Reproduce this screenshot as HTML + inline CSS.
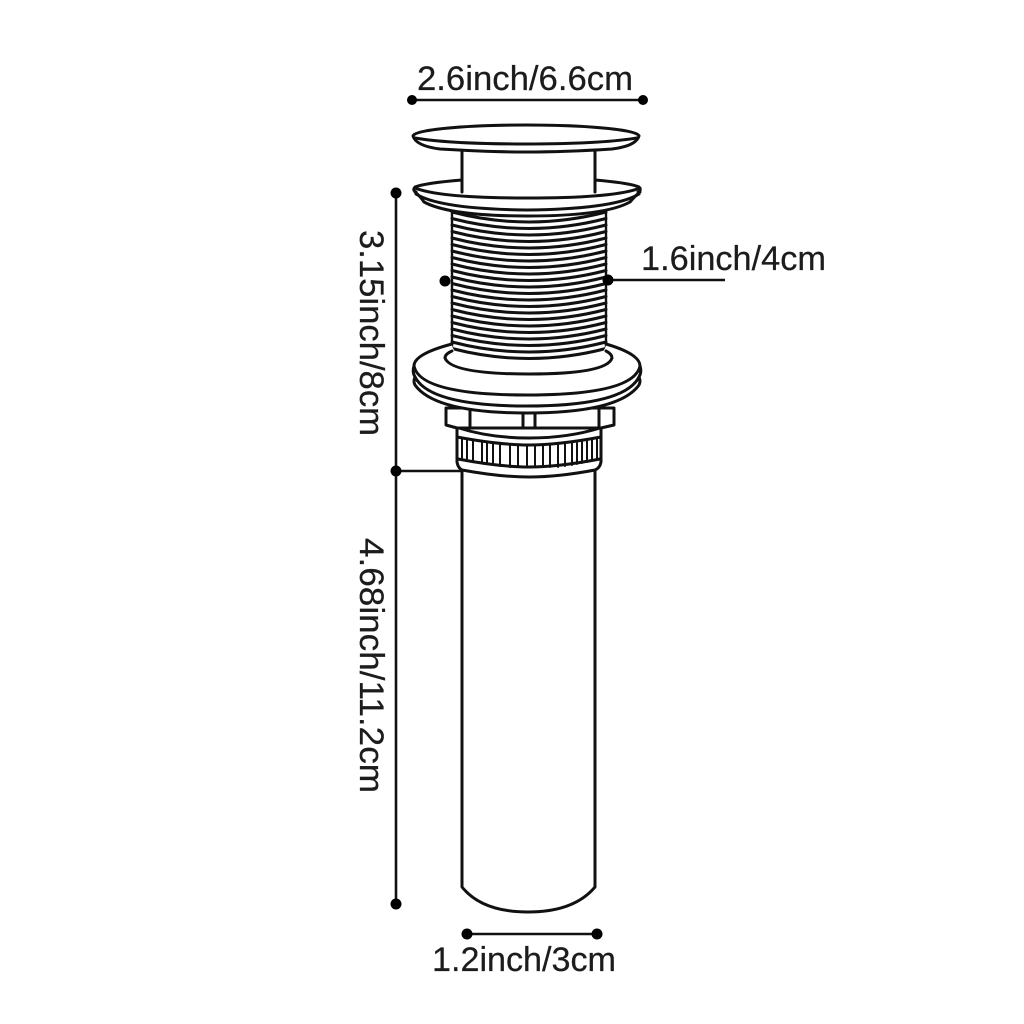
<!DOCTYPE html>
<html><head><meta charset="utf-8"><style>
html,body{margin:0;padding:0;background:#fff}svg{display:block}
text{font-family:"Liberation Sans",sans-serif;font-size:34px;fill:#1c1c1c;stroke:#1c1c1c;stroke-width:.25px}
</style></head><body>
<svg width="1024" height="1024" viewBox="0 0 1024 1024" xmlns="http://www.w3.org/2000/svg">
<rect width="1024" height="1024" fill="#fff"/>
<g fill="none" stroke="#111" stroke-width="3" stroke-linecap="round" stroke-linejoin="round">
<!-- tube -->
<path d="M462 470V887Q482 912 528 912Q574 912 595 887V470" fill="#fff"/>
<!-- threads -->
<path d="M452 212V360M606 212V360" stroke-width="2.4"/>
<path stroke-width="3" d="M452 212Q529 232 606 212M452 218.500Q529 238.500 606 218.500M452 225Q529 245 606 225M452 231.500Q529 251.500 606 231.500M452 238Q529 258 606 238M452 244.500Q529 264.500 606 244.500M452 251Q529 271 606 251M452 257.500Q529 277.500 606 257.500M452 264Q529 284 606 264M452 270.500Q529 290.500 606 270.500M452 277Q529 297 606 277M452 283.500Q529 303.500 606 283.500M452 290Q529 310 606 290M452 296.500Q529 316.500 606 296.500M452 303Q529 323 606 303M452 309.500Q529 329.500 606 309.500M452 316Q529 336 606 316M452 322.500Q529 342.500 606 322.500M452 329Q529 349 606 329M452 335.500Q529 355.500 606 335.500M452 342Q529 362 606 342M452 348.500Q529 368.500 606 348.500"/>
<!-- knurled ring -->
<path d="M457 428V462Q458 468 462 470Q500 477 529 477Q558 477 595 470Q600 468 601 462V428Z" fill="#fff"/>
<path d="M457 437Q500 445 529 445Q558 445 601 437"/>
<path d="M458 459Q500 467 529 467Q558 467 600 459"/>
<path stroke-width="2" d="M462 438V460M467 439V461M473 440V462M482 442V463M487 443V464M493 443V465M500 444V466M510 445V467M518 445V467M527 445V467M535 445V467M543 445V467M550 445V467M558 445V467M565 444V466M572 443V465M577 443V464M582 442V463M587 441V462M592 440V461M597 439V460"/>
<!-- nut -->
<path d="M446 408V425L457 428H601L614 425V408Z" fill="#fff"/>
<path d="M470 410V427M523 412V428M535 412V428M599 410V427"/>
<path d="M459 428Q490 438 529 438Q568 438 600 428"/>
<!-- lower flange -->
<path d="M452 344Q414 355 414 366V386Q440 413 527 413Q614 413 640 386V366Q640 355 606 344Q605 366 529 366Q453 366 452 344Z" fill="#fff" stroke="none"/>
<path d="M452 344Q414 354 414 366Q420 395 527 395Q634 395 640 366Q640 354 606 344"/>
<path d="M414 366Q412 372 415 377Q430 406 527 406Q624 406 639 377Q642 372 640 366"/>
<path d="M415 377Q413 381 415 385Q435 413 527 413Q619 413 639 385Q641 381 639 377"/>
<path d="M452 351Q445 354 445 358Q451 374 529 374Q607 374 612 358Q612 354 606 351"/>
<!-- upper flange -->
<path d="M462 180Q425 183 415 188Q412 191 415 193Q425 216 527 216Q630 216 640 193Q642 190 640 188Q630 183 595 180V196H462Z" fill="#fff" stroke="none"/>
<path d="M462 180Q425 183 415 187Q412 190 416 192M595 180Q630 183 639 187Q642 190 638 192"/>
<path d="M415 188Q440 198 527 198Q615 198 640 188"/>
<path d="M416 194Q440 209 527 210Q615 209 639 194"/>
<path d="M415 192Q420 196 424 202Q450 216 527 216Q605 216 630 202Q635 196 640 192"/>
<!-- neck -->
<path d="M462 150V192M595 150V192"/>
<!-- top disc -->
<path d="M413 136Q416 146 440 149Q490 152 526 152Q565 152 612 149Q636 146 639 136A113 11 0 0 0 413 136Z" fill="#fff"/>
<path d="M415 138Q450 144 526 144Q600 144 637 138"/>
</g>
<!-- dimensions -->
<g stroke="#111" stroke-width="2.6" fill="none">
<path d="M412 100H643M396 193V904M396 471H462M608 280H725M467 934H597"/>
</g>
<g fill="#000">
<circle cx="412" cy="100" r="5"/><circle cx="643" cy="100" r="5"/>
<circle cx="396" cy="193" r="5.500"/><circle cx="396" cy="471" r="5.500"/><circle cx="396" cy="904" r="5.500"/>
<circle cx="445" cy="281" r="5.500"/><circle cx="608" cy="280" r="5.500"/>
<circle cx="467" cy="934" r="5.500"/><circle cx="597" cy="934" r="5.500"/>
</g>
<text x="417" y="90" textLength="216" lengthAdjust="spacingAndGlyphs">2.6inch/6.6cm</text>
<text x="641" y="270" textLength="185" lengthAdjust="spacingAndGlyphs">1.6inch/4cm</text>
<text x="432" y="971" textLength="184" lengthAdjust="spacingAndGlyphs">1.2inch/3cm</text>
<text transform="translate(360 230) rotate(90)" textLength="206" lengthAdjust="spacingAndGlyphs">3.15inch/8cm</text>
<text transform="translate(360 538) rotate(90)" textLength="255" lengthAdjust="spacingAndGlyphs">4.68inch/11.2cm</text>
</svg>
</body></html>
